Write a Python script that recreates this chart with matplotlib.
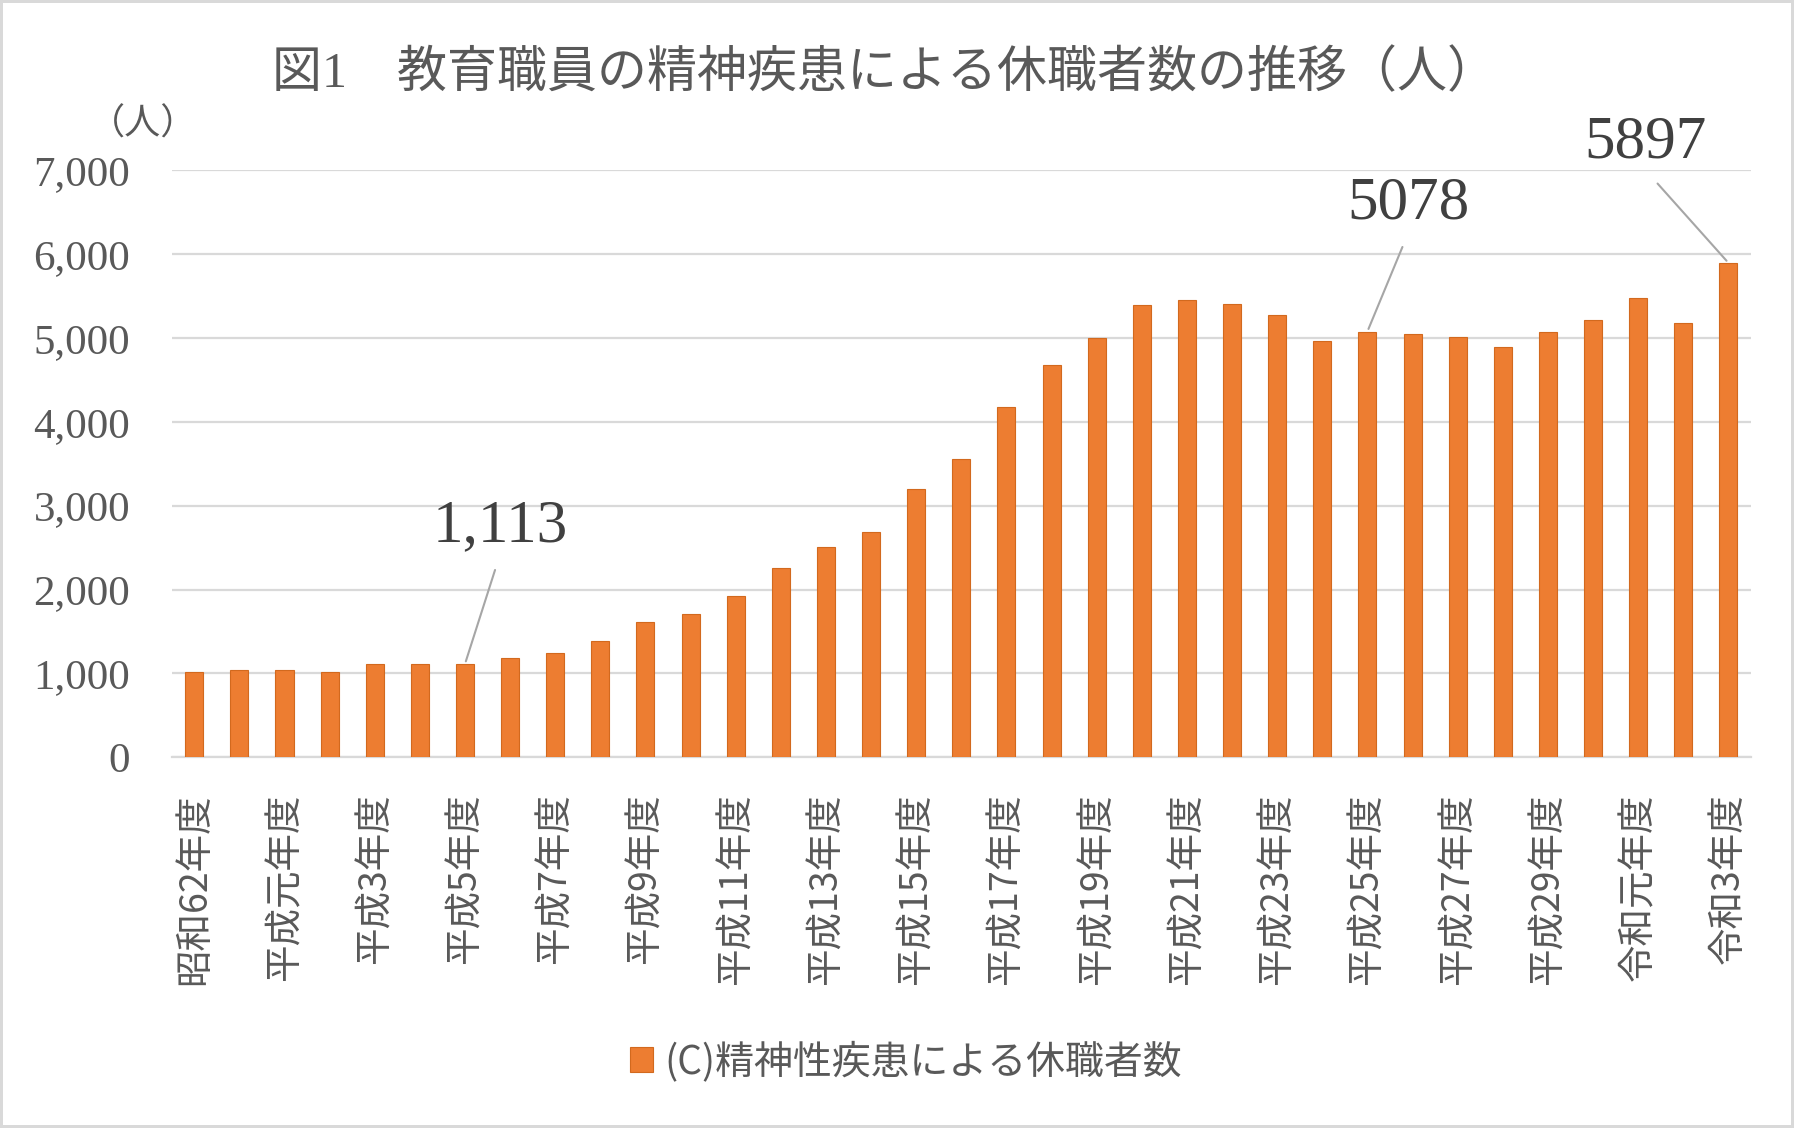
import numpy as np
import matplotlib
matplotlib.use('Agg')
import matplotlib.pyplot as plt

# 教育職員の精神疾患による休職者数 (昭和62年度〜令和3年度)
years = ['昭和62年度', '昭和63年度', '平成元年度', '平成2年度', '平成3年度', '平成4年度',
         '平成5年度', '平成6年度', '平成7年度', '平成8年度', '平成9年度', '平成10年度',
         '平成11年度', '平成12年度', '平成13年度', '平成14年度', '平成15年度', '平成16年度',
         '平成17年度', '平成18年度', '平成19年度', '平成20年度', '平成21年度', '平成22年度',
         '平成23年度', '平成24年度', '平成25年度', '平成26年度', '平成27年度', '平成28年度',
         '平成29年度', '平成30年度', '令和元年度', '令和2年度', '令和3年度']
counts = [1017, 1047, 1037, 1017, 1111, 1111, 1113, 1188, 1240, 1385, 1609, 1715,
          1924, 2262, 2503, 2687, 3194, 3559, 4178, 4675, 4995, 5400, 5458, 5407,
          5274, 4960, 5078, 5045, 5009, 4891, 5077, 5212, 5478, 5180, 5897]
yticks = [0, 1000, 2000, 3000, 4000, 5000, 6000, 7000]

# callouts: (bar index, label, text position in data coords)
callouts = [(6, '1,113', 6.78, 2756),
            (26, '5078', 26.92, 6603),
            (34, '5897', 32.17, 7330)]

title = '図1　教育職員の精神疾患による休職者数の推移（人）'
legend_label = '(C)精神性疾患による休職者数'

jp = ['Noto Sans CJK JP', 'DejaVu Sans']
serif = ['Liberation Serif', 'Noto Sans CJK JP']
txt = '#595959'
bar_c = '#ED7D31'
grid_c = '#D9D9D9'

fig = plt.figure(figsize=(17.94, 11.28), dpi=100)
fig.patch.set_edgecolor(grid_c)
fig.patch.set_linewidth(4)
ax = fig.add_axes([0.0957, 0.3286, 0.8803, 0.5204])

x = np.arange(len(years))
ax.bar(x, counts, width=0.4, color=bar_c, edgecolor='#D2691E', linewidth=0.8,
       label=legend_label, zorder=3)

ax.set_xlim(-0.5, len(years) - 0.5)
ax.set_ylim(0, 7000)
ax.set_yticks(yticks)
ax.set_yticklabels(['{:,}'.format(v) for v in yticks], fontsize=31, color=txt, family=serif)
ax.set_xticks(x[::2])
ax.set_xticklabels(years[::2], rotation=90, fontsize=27, color=txt, family=jp,
                   ha='center', va='top')
ax.tick_params(axis='both', length=0)
ax.tick_params(axis='y', pad=30)
ax.tick_params(axis='x', pad=26)

ax.yaxis.grid(True, color=grid_c, linewidth=1.6, zorder=0)
for s in ['top', 'right', 'left']:
    ax.spines[s].set_visible(False)
ax.spines['bottom'].set_color(grid_c)
ax.spines['bottom'].set_linewidth(1.6)

for idx, label, tx, ty in callouts:
    ax.annotate(label, xy=(idx, counts[idx]), xytext=(tx, ty),
                ha='center', va='center', fontsize=44, color='#404040', family=serif,
                annotation_clip=False,
                arrowprops=dict(arrowstyle='-', color='#A6A6A6', lw=1.5,
                                relpos=(0.5, 0.0), shrinkA=10, shrinkB=2))

fig.text(0.493, 0.934, title, ha='center', va='center', fontsize=36, color=txt, family=serif)
fig.text(0.08, 0.89, '（人）', ha='center', va='center', fontsize=26, color=txt, family=jp)

leg = ax.legend(loc='center', bbox_to_anchor=(0.505, 0.059), bbox_transform=fig.transFigure,
                frameon=False, prop={'family': jp, 'size': 28}, handlelength=0.6,
                handleheight=0.6, handletextpad=0.3)
for t in leg.get_texts():
    t.set_color(txt)

fig.savefig('out.png', dpi=100)
